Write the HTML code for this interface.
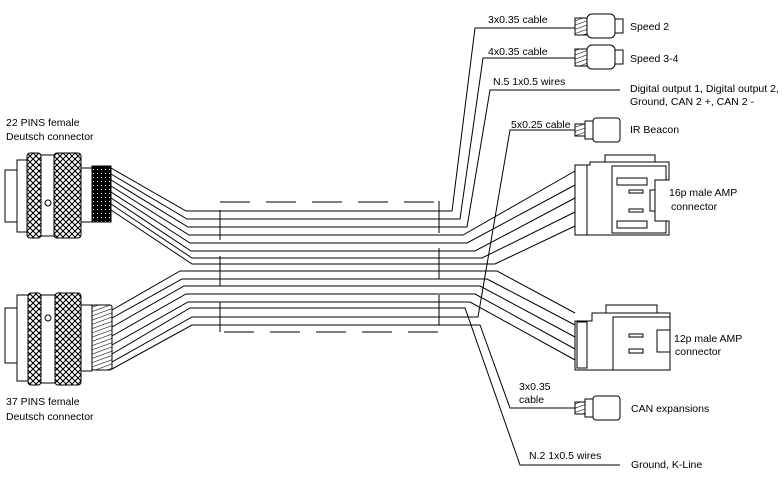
<!DOCTYPE html>
<html><head><meta charset="utf-8"><style>
html,body{margin:0;padding:0;background:#fff;}
svg{display:block;}
text{font-family:"Liberation Sans",sans-serif;font-size:10.5px;fill:#000;}
</style></head><body>
<svg width="784" height="486" viewBox="0 0 784 486" xmlns="http://www.w3.org/2000/svg">
<defs>
<pattern id="knurl" width="6" height="6" patternUnits="userSpaceOnUse">
<rect width="6" height="6" fill="#fff"/>
<path d="M0 0L6 6M6 0L0 6" stroke="#000" stroke-width="1.1"/>
</pattern>
<pattern id="stripe" width="4" height="4" patternUnits="userSpaceOnUse" patternTransform="rotate(70)">
<rect width="4" height="4" fill="#fff"/><line x1="0" y1="0" x2="0" y2="4" stroke="#000" stroke-width="1.1"/>
</pattern>
<pattern id="blk" width="4" height="4" patternUnits="userSpaceOnUse">
<rect width="4" height="4" fill="#000"/><rect x="1" y="1" width="1" height="1" fill="#fff"/>
</pattern>
</defs>
<g stroke="#000" stroke-width="1" fill="none">
<rect x="5" y="170" width="12" height="52" fill="#fff"/>
<rect x="17" y="160" width="11" height="72" fill="#fff"/>
<rect x="27" y="153" width="14" height="85" rx="3" fill="url(#knurl)"/>
<rect x="41" y="155" width="14" height="81" fill="#fff"/>
<rect x="54" y="153" width="27" height="85" rx="3" fill="url(#knurl)"/>
<rect x="81" y="168" width="11" height="54" fill="#fff"/>
<rect x="92" y="166" width="19" height="56" fill="url(#blk)"/>
<circle cx="48" cy="203" r="3" fill="#fff"/>
<rect x="5" y="308" width="12" height="55" fill="#fff"/>
<rect x="17" y="295" width="11" height="86" fill="#fff"/>
<rect x="28" y="293" width="13" height="92" rx="3" fill="url(#knurl)"/>
<rect x="41" y="295" width="14" height="88" fill="#fff"/>
<rect x="55" y="293" width="26" height="92" rx="3" fill="url(#knurl)"/>
<rect x="81" y="305" width="11" height="66" fill="#fff"/>
<rect x="92" y="305" width="20" height="65" rx="2" fill="url(#stripe)"/>
<circle cx="48" cy="318" r="3" fill="#fff"/>
<path d="M111 168L186 211H452L475 28H575"/>
<path d="M111 174L187 219H460L483 58H575"/>
<path d="M111 180L188 227H467L490 90H620"/>
<path d="M111 186L189 235H463L575 171"/>
<path d="M111 192L190 243H467L575 185"/>
<path d="M111 198L191 251H475L575 198"/>
<path d="M111 204L192 258H482L575 212"/>
<path d="M111 210L192 264H495L575 226"/>
<path d="M112 310L180 271H497L575 313"/>
<path d="M112 318L182 279H487L575 325"/>
<path d="M112 327L184 286H480L575 337"/>
<path d="M112 336L186 294H475L575 349"/>
<path d="M112 345L188 302H470L575 360"/>
<path d="M112 354L190 308H465L520 465H620"/>
<path d="M112 362L192 317H478L510 130H575"/>
<path d="M112 369L192 325H480L510 408H575"/>
<path d="M220 202H437" stroke-dasharray="30 16"/>
<path d="M224 332H440" stroke-dasharray="30 16"/>
<path d="M220 210V240M220 256V286M220 302V332M439 201V233M439 248V279M439 295V325"/>
<g fill="#fff">
<rect x="575" y="18" width="12" height="17" fill="url(#stripe)"/><rect x="587" y="14" width="28" height="24" rx="5"/><rect x="615" y="19" width="8" height="14"/>
<rect x="575" y="49" width="12" height="17" fill="url(#stripe)"/><rect x="587" y="45" width="28" height="24" rx="5"/><rect x="615" y="50" width="8" height="14"/>
<rect x="575" y="124" width="10" height="12" fill="url(#stripe)"/><rect x="585" y="121" width="8" height="18"/><rect x="593" y="118" width="27" height="24" rx="3"/>
<rect x="575" y="402" width="10" height="12" fill="url(#stripe)"/><rect x="585" y="399" width="8" height="18"/><rect x="593" y="396" width="27" height="24" rx="3"/>
</g>
<g fill="#fff">
<rect x="605" y="155" width="50" height="8"/>
<path d="M575 165H590V162H669V180H655V221H669V235H575Z"/>
<rect x="575" y="165" width="12" height="70"/>
<path d="M612 166H666V180H655V221H666V233H612Z"/>
<rect x="617" y="178" width="30" height="7"/><rect x="617" y="221" width="30" height="7"/>
<rect x="629" y="190" width="14" height="3"/><rect x="629" y="209" width="14" height="3"/>
<rect x="650" y="190" width="5" height="21"/>
<rect x="606" y="305" width="51" height="8"/>
<path d="M575 321H592V313H670V370H575Z"/>
<rect x="577" y="322" width="10" height="46"/>
<path d="M613 317H670V370H613Z"/>
<path d="M657 330H670V352H657Z"/>
<rect x="629" y="334" width="14" height="3"/><rect x="629" y="349" width="14" height="4"/>
</g>
</g>
<text x="6" y="126">22 PINS female</text>
<text x="6" y="140">Deutsch connector</text>
<text x="6" y="405">37 PINS female</text>
<text x="6" y="420">Deutsch connector</text>
<text x="488" y="23">3x0.35 cable</text>
<text x="488" y="55">4x0.35 cable</text>
<text x="493" y="85">N.5 1x0.5 wires</text>
<text x="630" y="30">Speed 2</text>
<text x="630" y="62">Speed 3-4</text>
<text x="630" y="92">Digital output 1, Digital output 2,</text>
<text x="630" y="105">Ground, CAN 2 +, CAN 2 -</text>
<text x="511" y="128">5x0.25 cable</text>
<text x="630" y="133">IR Beacon</text>
<text x="669" y="196">16p male AMP</text>
<text x="671" y="210">connector</text>
<text x="674" y="342">12p male AMP</text>
<text x="675" y="355">connector</text>
<text x="519" y="390">3x0.35</text>
<text x="519" y="403">cable</text>
<text x="631" y="412">CAN expansions</text>
<text x="529" y="459">N.2 1x0.5 wires</text>
<text x="631" y="468">Ground, K-Line</text>
</svg>
</body></html>
